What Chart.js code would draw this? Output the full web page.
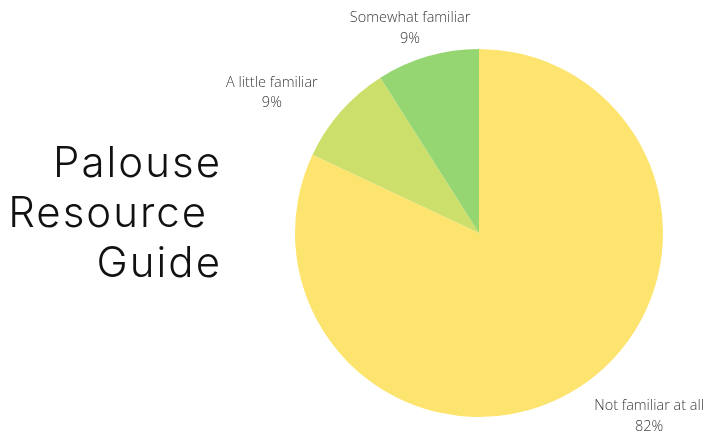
<!DOCTYPE html>
<html>
<head>
<meta charset="utf-8">
<script src="https://cdn.jsdelivr.net/npm/chart.js@4/dist/chart.umd.min.js"></script>
<style>
  html, body { margin: 0; padding: 0; background: #ffffff; }
  #wrap { position: relative; width: 704px; height: 434px; }
  #title {
    position: absolute; right: 482px; top: 137px;
    font-family: Inter, Lato, sans-serif; font-weight: 300;
    font-size: 42px; line-height: 50px; color: #111; text-align: right;
    white-space: pre; letter-spacing: 2px;
  }
  canvas { position: absolute; left: 0; top: 0; }
</style>
</head>
<body>
<div id="wrap">
  <canvas id="c" width="704" height="434"></canvas>
  <div id="title">Palouse
Resource 
Guide</div>
</div>
<script>
const categories = ["Not familiar at all", "A little familiar", "Somewhat familiar"];
const values = [82, 9, 9];
const valueLabels = ["82%", "9%", "9%"];
const colors = ["#FDE46F", "#CDDF6B", "#95D672"];

const outsideLabels = {
  id: 'outsideLabels',
  afterDatasetsDraw(chart) {
    const ctx = chart.ctx;
    const meta = chart.getDatasetMeta(0);
    ctx.save();
    ctx.font = '300 14.5px "Open Sans", sans-serif';
    ctx.fillStyle = '#3a3a3a';
    ctx.textBaseline = 'middle';
    ctx.textAlign = 'center';
    const lineH = 20.5;
    meta.data.forEach((arc, i) => {
      const p = arc.getProps(['x', 'y', 'startAngle', 'endAngle', 'outerRadius'], true);
      const mid = (p.startAngle + p.endAngle) / 2;
      const d = p.outerRadius + 31;
      const c = Math.cos(mid), s = Math.sin(mid);
      const ax = p.x + c * d;
      const ay = p.y + s * d;
      const lines = [categories[i], valueLabels[i]];
      const w = Math.max(...lines.map(l => ctx.measureText(l).width));
      const h = lines.length * lineH;
      const cx = Math.abs(c) < 0.4 ? ax + (c < 0 ? -9 : 9) : ax + Math.sign(c) * w / 2;
      const cy = ay + 2;
      lines.forEach((l, k) => {
        ctx.fillText(l, cx, cy - h / 2 + lineH / 2 + k * lineH);
      });
    });
    ctx.restore();
  }
};

new Chart(document.getElementById('c'), {
  type: 'pie',
  data: {
    labels: categories,
    datasets: [{
      data: values,
      backgroundColor: colors,
      borderWidth: 0
    }]
  },
  options: {
    responsive: false,
    animation: false,
    layout: { padding: { left: 295, right: 41, top: 49, bottom: 17 } },
    plugins: {
      legend: { display: false },
      tooltip: { enabled: false }
    }
  },
  plugins: [outsideLabels]
});
</script>
</body>
</html>
